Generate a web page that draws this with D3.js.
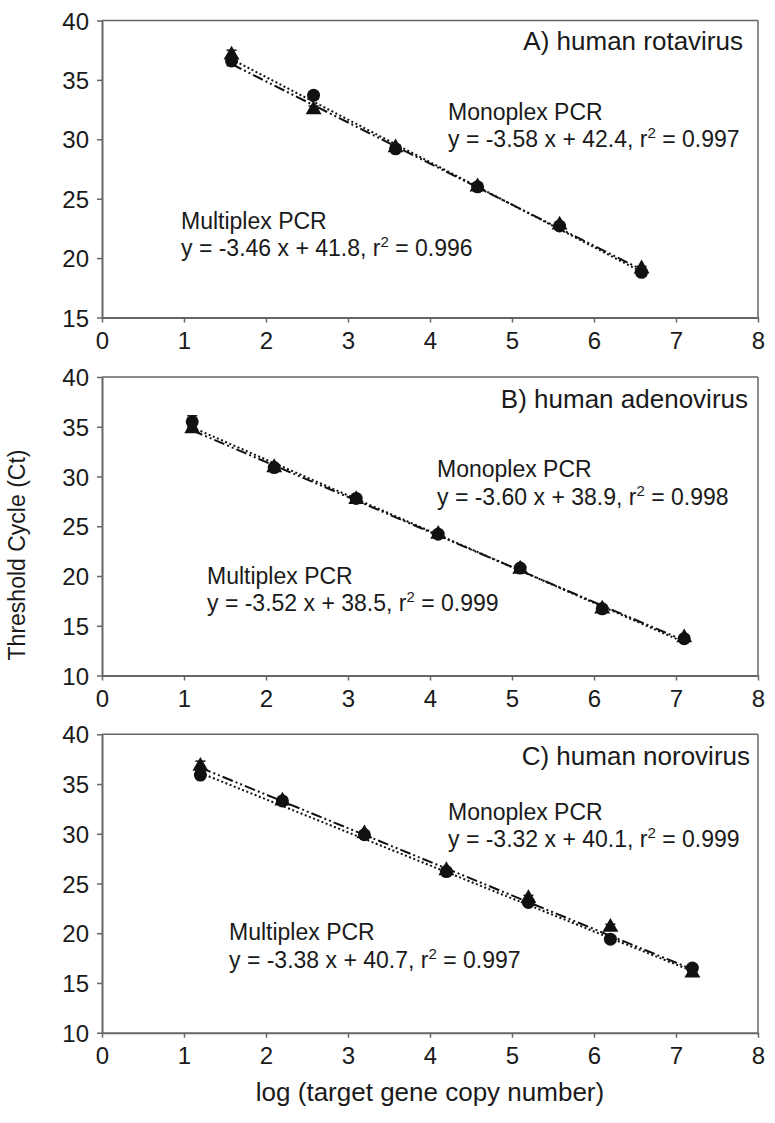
<!DOCTYPE html>
<html><head><meta charset="utf-8">
<script src="https://cdn.jsdelivr.net/npm/d3@7"></script>
<style>body{margin:0;background:#fff}text{font-family:"Liberation Sans",Arial,sans-serif;fill:#1a1a1a}</style>
</head><body>
<svg id="c" width="775" height="1123"></svg>
<script>
// ---- data ----
const panelTitles = ["A) human rotavirus", "B) human adenovirus", "C) human norovirus"];
const yDomains = [[15, 40], [10, 40], [10, 40]];
const yTicks = [[15, 20, 25, 30, 35, 40], [10, 15, 20, 25, 30, 35, 40], [10, 15, 20, 25, 30, 35, 40]];
const xTicks = [0, 1, 2, 3, 4, 5, 6, 7, 8];

const xA = [1.58, 2.58, 3.58, 4.58, 5.58, 6.58];
const monoA = [36.6, 33.7, 29.2, 26.0, 22.7, 18.8];
const multiA = [37.1, 32.5, 29.3, 26.0, 22.8, 19.1];
const xB = [1.1, 2.1, 3.1, 4.1, 5.1, 6.1, 7.1];
const monoB = [35.5, 30.9, 27.8, 24.2, 20.8, 16.7, 13.7];
const multiB = [34.8, 30.9, 27.7, 24.2, 20.7, 16.7, 13.8];
const xC = [1.2, 2.2, 3.2, 4.2, 5.2, 6.2, 7.2];
const monoC = [35.9, 33.3, 29.9, 26.2, 23.1, 19.4, 16.5];
const multiC = [36.8, 33.3, 30.0, 26.3, 23.5, 20.6, 16.0];
const sdMono = [[0.4, 0.3, 0.2, 0.2, 0.2, 0.3], [0.6, 0.2, 0.2, 0.2, 0.2, 0.2, 0.2], [0.3, 0.2, 0.2, 0.2, 0.2, 0.3, 0.3]];
const sdMulti = [[0.4, 0.3, 0.2, 0.2, 0.2, 0.2], [0.3, 0.2, 0.2, 0.2, 0.2, 0.2, 0.2], [0.5, 0.2, 0.2, 0.2, 0.3, 0.3, 0.3]];

const monoSlope = [-3.58, -3.60, -3.32], monoInt = [42.4, 38.9, 40.1], monoR2 = ["0.997", "0.998", "0.999"];
const multiSlope = [-3.46, -3.52, -3.38], multiInt = [41.8, 38.5, 40.7], multiR2 = ["0.996", "0.999", "0.997"];
const xs = [xA, xB, xC], monos = [monoA, monoB, monoC], multis = [multiA, multiB, multiC];

// ---- layout ----
const L = 102, R = 758;
const tops = [20.5, 377, 734.3], bots = [317.5, 675.5, 1032.7];
const monoPos = [[448, 120, 147], [437, 477, 505], [448, 820, 847]];
const multiPos = [[181, 229, 256], [207, 584, 611], [229, 940, 968]];
const titlePos = [[743, 50], [748, 408], [750, 765]];

const svg = d3.select("#c");
const axisCol = "#666";
const FS = 23;

function eqText(g, x, y, slope, inter, r2) {
  const t = g.append("text").attr("x", x).attr("y", y).attr("font-size", FS);
  t.append("tspan").text(`y = ${slope.toFixed(2)} x + ${inter.toFixed(1)}, r`);
  t.append("tspan").attr("font-size", 15).attr("dy", -9).text("2");
  t.append("tspan").attr("dy", 9).text(` = ${r2}`);
}

for (let p = 0; p < 3; p++) {
  const x = d3.scaleLinear().domain([0, 8]).range([L, R]);
  const y = d3.scaleLinear().domain(yDomains[p]).range([bots[p], tops[p]]);
  const g = svg.append("g");

  g.append("line").attr("x1", L).attr("x2", R).attr("y1", tops[p]).attr("y2", tops[p]).attr("stroke", axisCol).attr("stroke-width", 1.5);
  g.append("line").attr("x1", R).attr("x2", R).attr("y1", tops[p]).attr("y2", bots[p]).attr("stroke", axisCol).attr("stroke-width", 1.5);

  const xa = g.append("g").attr("transform", `translate(0,${bots[p]})`)
    .call(d3.axisBottom(x).tickValues(xTicks).tickSize(5).tickPadding(9).tickSizeOuter(0));
  const ya = g.append("g").attr("transform", `translate(${L},0)`)
    .call(d3.axisLeft(y).tickValues(yTicks[p]).tickSize(5).tickPadding(8).tickSizeOuter(0));
  [xa, ya].forEach(a => {
    a.select(".domain").attr("stroke", axisCol).attr("stroke-width", 2);
    a.selectAll(".tick line").attr("stroke", axisCol).attr("stroke-width", 1.5);
    a.selectAll(".tick text").attr("font-size", 24).attr("fill", "#1a1a1a").style("font-family", '"Liberation Sans",Arial,sans-serif');
  });
  ya.selectAll(".tick text").attr("dy", "0.36em");

  const xx = xs[p];
  const x0 = xx[0], x1 = xx[xx.length - 1];
  g.append("line").attr("x1", x(x0)).attr("x2", x(x1))
    .attr("y1", y(monoSlope[p] * x0 + monoInt[p])).attr("y2", y(monoSlope[p] * x1 + monoInt[p]))
    .attr("stroke", "#111").attr("stroke-width", 2).attr("stroke-dasharray", "2,2.5");
  g.append("line").attr("x1", x(x0)).attr("x2", x(x1))
    .attr("y1", y(multiSlope[p] * x0 + multiInt[p])).attr("y2", y(multiSlope[p] * x1 + multiInt[p]))
    .attr("stroke", "#111").attr("stroke-width", 2).attr("stroke-dasharray", "11,3,2,3,2,3");

  const eb = (vals, sds) => vals.forEach((v, i) => {
    const cx = x(xx[i]);
    g.append("line").attr("x1", cx).attr("x2", cx).attr("y1", y(v - sds[i])).attr("y2", y(v + sds[i])).attr("stroke", "#111").attr("stroke-width", 1.5);
    [v - sds[i], v + sds[i]].forEach(e => g.append("line").attr("x1", cx - 5).attr("x2", cx + 5).attr("y1", y(e)).attr("y2", y(e)).attr("stroke", "#111").attr("stroke-width", 1.5));
  });
  eb(monos[p], sdMono[p]);
  eb(multis[p], sdMulti[p]);

  g.selectAll(".tri").data(multis[p]).join("path")
    .attr("transform", (d, i) => `translate(${x(xx[i])},${y(d)})`)
    .attr("d", d3.symbol(d3.symbolTriangle, 110)).attr("fill", "#111");
  g.selectAll(".cir").data(monos[p]).join("circle")
    .attr("cx", (d, i) => x(xx[i])).attr("cy", d => y(d)).attr("r", 6.5).attr("fill", "#111");

  g.append("text").attr("x", titlePos[p][0]).attr("y", titlePos[p][1]).attr("text-anchor", "end").attr("font-size", 26).text(panelTitles[p]);
  g.append("text").attr("x", monoPos[p][0]).attr("y", monoPos[p][1]).attr("font-size", FS).text("Monoplex PCR");
  eqText(g, monoPos[p][0], monoPos[p][2], monoSlope[p], monoInt[p], monoR2[p]);
  g.append("text").attr("x", multiPos[p][0]).attr("y", multiPos[p][1]).attr("font-size", FS).text("Multiplex PCR");
  eqText(g, multiPos[p][0], multiPos[p][2], multiSlope[p], multiInt[p], multiR2[p]);
}

svg.append("text").attr("transform", "translate(25,555) rotate(-90)").attr("text-anchor", "middle").attr("font-size", 23).text("Threshold Cycle (Ct)");
svg.append("text").attr("x", 430).attr("y", 1101).attr("text-anchor", "middle").attr("font-size", 26).text("log (target gene copy number)");
</script>
</body></html>
